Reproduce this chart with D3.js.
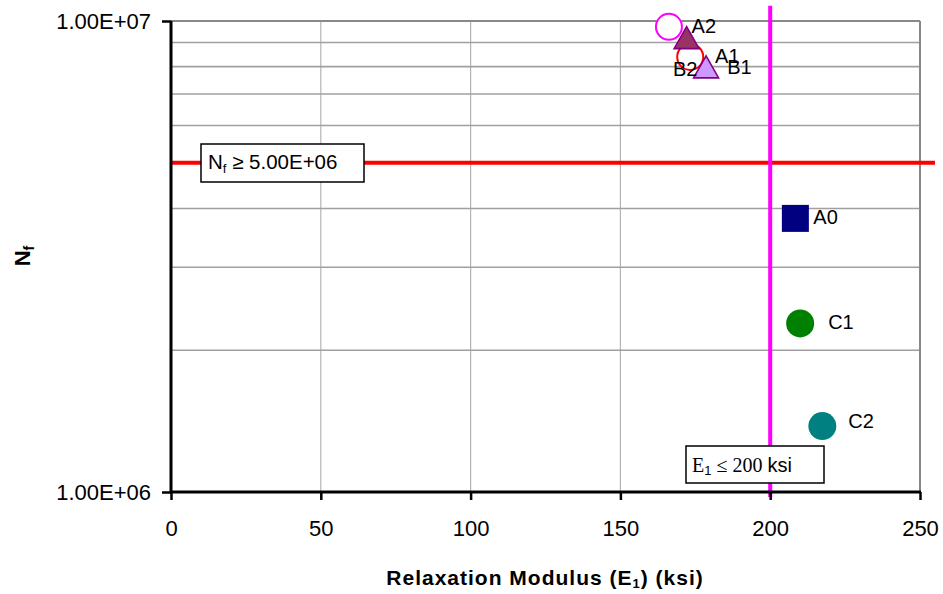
<!DOCTYPE html>
<html>
<head>
<meta charset="utf-8">
<script src="https://cdn.jsdelivr.net/npm/d3@7"></script>
<style>
  html, body { margin: 0; padding: 0; background: #fff; }
  svg { display: block; }
  text { font-family: "Liberation Sans", Arial, sans-serif; }
</style>
</head>
<body>
<svg id="chart" width="943" height="594"></svg>
<script>
// Mixture results: relaxation modulus E1 (ksi) vs. fatigue life Nf
const mixNames = ["A0", "A1", "A2", "B1", "B2", "C1", "C2"];
const modulusE1 = [208.4, 178.6, 172.1, 173.3, 166.2, 210.0, 217.4];
const fatigueNf = [3.81e6, 7.99e6, 9.22e6, 8.39e6, 9.72e6, 2.28e6, 1.38e6];

// Criteria lines
const nfLimit = 5.0e6;
const nfLimitSpan = [0, 255];
const e1Limit = 200;
const e1LimitSpan = [1.077e7, 0.976e6];

// Axis ticks
const xTickValues = [0, 50, 100, 150, 200, 250];
const yTickValues = [1e6, 1e7];
const yTickLabels = ["1.00E+06", "1.00E+07"];
const yGridValues = [2e6, 3e6, 4e6, 5e6, 6e6, 7e6, 8e6, 9e6, 1e7];

// Marker look per mix
const markerStyle = {
  A0: { shape: "square",   fill: "#000080", stroke: "none",    size: 27 },
  A1: { shape: "triangle", fill: "#CC99FF", stroke: "#800080", size: 25 },
  A2: { shape: "triangle", fill: "#993366", stroke: "#800080", size: 25 },
  B1: { shape: "ring",     fill: "#ffffff", stroke: "#FF0000", size: 26 },
  B2: { shape: "ring",     fill: "#ffffff", stroke: "#FF00FF", size: 26 },
  C1: { shape: "circle",   fill: "#008000", stroke: "none",    size: 28 },
  C2: { shape: "circle",   fill: "#008080", stroke: "none",    size: 28 }
};
// Data label offsets from marker centre (px)
const labelOffset = {
  A0: [18, 6], A1: [9, -4], A2: [5, -4.5], B1: [37, 17],
  B2: [4, 49], C1: [28, 6], C2: [26, 2]
};
const drawOrder = ["B1", "B2", "A2", "A1", "A0", "C1", "C2"];

// Excel-style scientific notation, e.g. 5.00E+06
function sci(v) {
  const [m, e] = v.toExponential(2).toUpperCase().split("E");
  const sign = e[0] === "-" ? "-" : "+";
  const digits = e.replace(/[+-]/, "").padStart(2, "0");
  return `${m}E${sign}${digits}`;
}

const svg = d3.select("#chart");
const plot = { left: 171, right: 920, top: 21, bottom: 492 };

const x = d3.scaleLinear().domain([0, 250]).range([plot.left, plot.right]);
const y = d3.scaleLog().domain([1e6, 1e7]).range([plot.bottom, plot.top]);

// Gridlines
svg.append("g")
  .selectAll("line")
  .data(xTickValues.filter(v => v > 0 && v < 250))
  .join("line")
  .attr("x1", d => x(d)).attr("x2", d => x(d))
  .attr("y1", plot.top).attr("y2", plot.bottom)
  .attr("stroke", "#b4b4b4").attr("stroke-width", 1.2);

svg.append("g")
  .selectAll("line")
  .data(yGridValues)
  .join("line")
  .attr("x1", plot.left).attr("x2", plot.right)
  .attr("y1", d => y(d)).attr("y2", d => y(d))
  .attr("stroke", d => d === 1e7 ? "#888888" : "#a0a0a0")
  .attr("stroke-width", d => d === 1e7 ? 2 : 1.6);

// Right border of the plot area
svg.append("line")
  .attr("x1", plot.right).attr("x2", plot.right)
  .attr("y1", plot.top).attr("y2", plot.bottom)
  .attr("stroke", "#888888").attr("stroke-width", 2);

// Criterion lines
svg.append("line")
  .attr("x1", x(nfLimitSpan[0])).attr("x2", x(nfLimitSpan[1]))
  .attr("y1", y(nfLimit)).attr("y2", y(nfLimit))
  .attr("stroke", "#FF0000").attr("stroke-width", 4);

svg.append("line")
  .attr("x1", x(e1Limit)).attr("x2", x(e1Limit))
  .attr("y1", y(e1LimitSpan[0])).attr("y2", y(e1LimitSpan[1]))
  .attr("stroke", "#FF00FF").attr("stroke-width", 4);

// Axes
const xAxis = d3.axisBottom(x).tickValues(xTickValues).tickSize(8).tickPadding(20);
const gx = svg.append("g")
  .attr("transform", `translate(0,${plot.bottom})`)
  .call(xAxis);
gx.select(".domain").attr("stroke", "#000").attr("stroke-width", 3)
  .attr("d", `M${plot.left - 1},0H${plot.right + 1}`);
gx.selectAll(".tick line").attr("stroke", "#000").attr("stroke-width", 2.5);
gx.selectAll(".tick text")
  .style("font-family", '"Liberation Sans", Arial, sans-serif')
  .attr("font-size", 22).attr("fill", "#000");

const yAxis = d3.axisLeft(y).tickValues(yTickValues)
  .tickFormat((d, i) => yTickLabels[i]).tickSize(9).tickPadding(11);
const gy = svg.append("g")
  .attr("transform", `translate(${plot.left},0)`)
  .call(yAxis);
gy.select(".domain").attr("stroke", "#000").attr("stroke-width", 3)
  .attr("d", `M0,${plot.top}V${plot.bottom + 1}`);
gy.selectAll(".tick line").attr("stroke", "#000").attr("stroke-width", 2.5);
gy.selectAll(".tick text")
  .style("font-family", '"Liberation Sans", Arial, sans-serif')
  .attr("font-size", 22).attr("fill", "#000");

// Criterion boxes
const nfBox = svg.append("g");
nfBox.append("rect")
  .attr("x", 201).attr("y", 144).attr("width", 163).attr("height", 38)
  .attr("fill", "#fff").attr("stroke", "#000").attr("stroke-width", 1.5);
const nfText = nfBox.append("text")
  .attr("x", 208).attr("y", 169).attr("font-size", 20.5).attr("fill", "#000");
nfText.append("tspan").text("N");
nfText.append("tspan").attr("font-size", 13).attr("dy", 4).text("f");
nfText.append("tspan").attr("dy", -4).text(" \u2265 " + sci(nfLimit));

const e1Box = svg.append("g");
e1Box.append("rect")
  .attr("x", 686).attr("y", 446).attr("width", 138).attr("height", 37)
  .attr("fill", "#fff").attr("stroke", "#000").attr("stroke-width", 1.5);
const e1Text = e1Box.append("text")
  .attr("x", 692).attr("y", 472).attr("font-size", 20).attr("fill", "#000");
e1Text.append("tspan").style("font-family", '"Liberation Serif", "Times New Roman", serif').text("E");
e1Text.append("tspan").attr("font-size", 13).attr("dy", 3).text("1");
e1Text.append("tspan").attr("dy", -3)
  .style("font-family", '"Liberation Serif", "Times New Roman", serif')
  .text(" \u2264 " + e1Limit + " ");
e1Text.append("tspan").text("ksi");

// Markers
const points = mixNames.map((name, i) => ({ name, e1: modulusE1[i], nf: fatigueNf[i] }));
const byName = new Map(points.map(p => [p.name, p]));
const mk = svg.append("g");
drawOrder.forEach(name => {
  const p = byName.get(name);
  const s = markerStyle[name];
  const cx = x(p.e1), cy = y(p.nf);
  if (s.shape === "square") {
    mk.append("rect")
      .attr("x", cx - s.size / 2).attr("y", cy - s.size / 2)
      .attr("width", s.size).attr("height", s.size)
      .attr("fill", s.fill);
  } else if (s.shape === "triangle") {
    const w = s.size, h = s.size * 0.88;
    mk.append("path")
      .attr("d", `M${cx},${cy - h / 2}L${cx + w / 2},${cy + h / 2}L${cx - w / 2},${cy + h / 2}Z`)
      .attr("fill", s.fill).attr("stroke", s.stroke).attr("stroke-width", 1.6)
      .attr("stroke-linejoin", "miter");
  } else if (s.shape === "ring") {
    mk.append("circle")
      .attr("cx", cx).attr("cy", cy).attr("r", s.size / 2)
      .attr("fill", s.fill).attr("stroke", s.stroke).attr("stroke-width", 2);
  } else {
    mk.append("circle")
      .attr("cx", cx).attr("cy", cy).attr("r", s.size / 2)
      .attr("fill", s.fill);
  }
});

// Data labels
svg.append("g")
  .selectAll("text")
  .data(points)
  .join("text")
  .attr("x", d => x(d.e1) + labelOffset[d.name][0])
  .attr("y", d => y(d.nf) + labelOffset[d.name][1])
  .attr("font-size", 20).attr("fill", "#000")
  .text(d => d.name);

// Axis titles
const xTitle = svg.append("text")
  .attr("x", 545).attr("y", 585).attr("text-anchor", "middle")
  .attr("font-size", 21).attr("font-weight", "bold").attr("letter-spacing", 1)
  .attr("fill", "#000");
xTitle.append("tspan").text("Relaxation Modulus (E");
xTitle.append("tspan").attr("font-size", 13).attr("dy", 3).text("1");
xTitle.append("tspan").attr("dy", -3).text(") (ksi)");

const yTitle = svg.append("text")
  .attr("transform", "translate(30,256) rotate(-90)")
  .attr("text-anchor", "middle")
  .attr("font-size", 22).attr("font-weight", "bold").attr("fill", "#000");
yTitle.append("tspan").text("N");
yTitle.append("tspan").attr("font-size", 14).attr("dy", 4).text("f");
</script>
</body>
</html>
